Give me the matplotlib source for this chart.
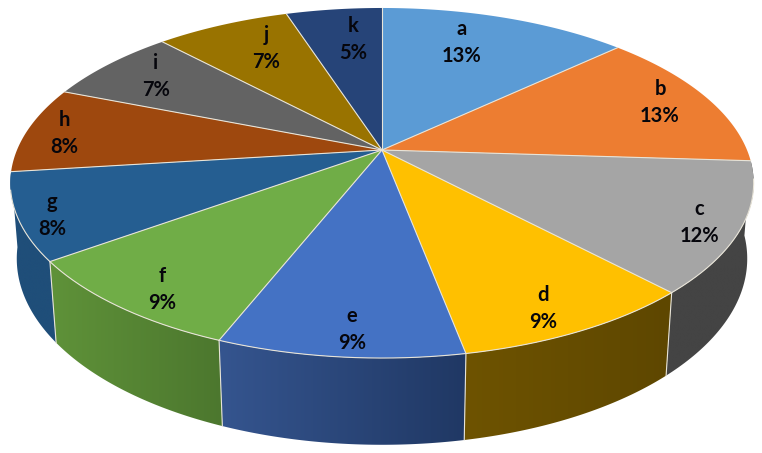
import numpy as np
import matplotlib
matplotlib.use('Agg')
import matplotlib.pyplot as plt
from matplotlib.colors import to_rgb, LinearSegmentedColormap
from matplotlib.patches import Polygon

categories = ['a', 'b', 'c', 'd', 'e', 'f', 'g', 'h', 'i', 'j', 'k']
values = [13, 13, 12, 9, 9, 9, 8, 8, 7, 7, 5]
top_colors = ['#5B9BD5', '#ED7D31', '#A5A5A5', '#FFC000', '#4472C4', '#70AD47',
              '#255E91', '#9E480E', '#636363', '#997300', '#264478']
# side wall colours, left end and right end of each visible wall
wall_left = {'c': '#444444', 'd': '#6E5300', 'e': '#35558F', 'f': '#5F9239', 'g': '#1F4E79'}
wall_right = {'c': '#444444', 'd': '#5E4700', 'e': '#203864', 'f': '#4C772E', 'g': '#1F4E79'}
label_xy = [(462, 29), (660, 89), (699, 209), (543, 295), (352, 316), (162, 276),
            (52, 202), (64, 120), (156, 63), (266, 35), (353, 26)]

# perspective projection of the pie disc
cx, cy = 382, 150
rx, ry = 365, 168.8
persp = 0.1886
drop = 75.4      # wall height
far = 0.017      # bottom face is a little further from the eye


def project(t, lower=False):
    # t is degrees clockwise from 12 o'clock
    u = np.sin(np.radians(t))
    v = np.cos(np.radians(t))
    w = 1 + persp*v
    if lower:
        w = w + far
        return cx + rx*u/w, cy + (-ry*v + drop)/w
    return cx + rx*u/w, cy - ry*v/w


fig = plt.figure(figsize=(7.62, 4.53), dpi=100)
ax = fig.add_axes([0, 0, 1, 1])
ax.axis('off')

edges = np.cumsum([0] + values)/sum(values)*360
edge_col = '#E8E4D8'

# walls first, a clipped image gives the horizontal gradient
for i, name in enumerate(categories):
    if name not in wall_left:
        continue
    ts = np.linspace(edges[i], edges[i+1], 60)
    xt, yt = project(ts)
    xb, yb = project(ts, lower=True)
    xs = np.r_[xt, xb[::-1]]
    ys = np.r_[yt, yb[::-1]]
    poly = Polygon(np.c_[xs, ys], closed=True, facecolor='none', edgecolor='none')
    ax.add_patch(poly)
    cmap = LinearSegmentedColormap.from_list(name, [to_rgb(wall_left[name]), to_rgb(wall_right[name])])
    im = ax.imshow(np.linspace(0, 1, 256)[None, :], cmap=cmap, aspect='auto', zorder=2,
                   extent=(xs.min(), xs.max(), ys.max(), ys.min()))
    im.set_clip_path(poly)

# top face
for i, name in enumerate(categories):
    ts = np.linspace(edges[i], edges[i+1], 80)
    xs, ys = project(ts)
    ax.fill(np.r_[cx, xs], np.r_[cy, ys], facecolor=top_colors[i], edgecolor='none', zorder=3)

# thin light lines between the slices and along the front rim
for i, t in enumerate(edges[:-1]):
    x, y = project(t)
    ax.plot([cx, x], [cy, y], color=edge_col, lw=0.8, zorder=4)
    if edges[2] < t < edges[7]:
        x2, y2 = project(t, lower=True)
        ax.plot([x, x2], [y, y2], color=edge_col, lw=0.8, zorder=4)
ts = np.linspace(edges[2] + 6, edges[7] - 6, 200)
xs, ys = project(ts)
ax.plot(xs, ys, color=edge_col, lw=0.8, zorder=4)

for i, name in enumerate(categories):
    x, y = label_xy[i]
    ax.text(x, y, name, ha='center', va='center', fontsize=14.5, family='Lato',
            weight='bold', color='#06060c', zorder=5)
    ax.text(x, y + 27, str(values[i]) + '%', ha='center', va='center', fontsize=14.5,
            family='Lato', weight='bold', color='#06060c', zorder=5)

ax.set_xlim(0, 762)
ax.set_ylim(453, 0)
fig.savefig('out.png', dpi=100)
